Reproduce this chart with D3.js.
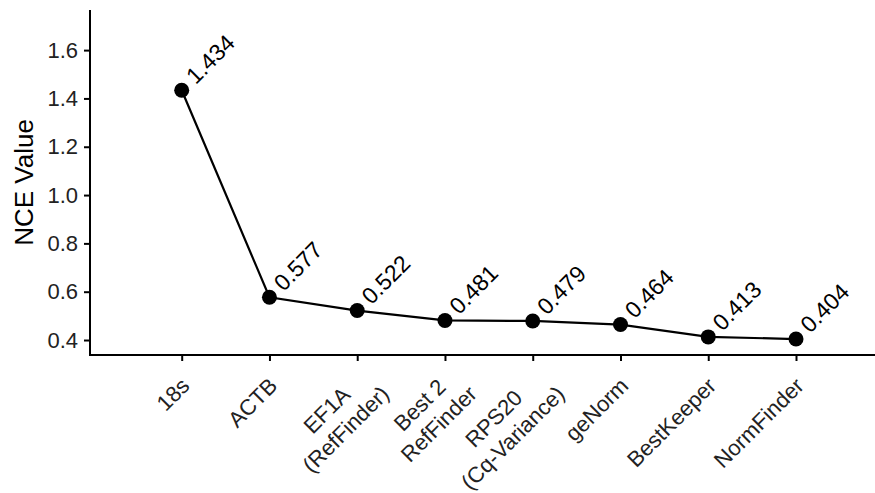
<!DOCTYPE html>
<html>
<head>
<meta charset="utf-8">
<script src="https://cdn.jsdelivr.net/npm/d3@7"></script>
<style>
	body { margin: 0; background: #fff; }
	svg { display: block; font-family: Arial, "Liberation Sans", Helvetica, sans-serif; }
</style>
</head>
<body>
<div id="chart"></div>
<script>
var methodLabels = [
	["18s"],
	["ACTB"],
	["EF1A", "(RefFinder)"],
	["Best 2", "RefFinder"],
	["RPS20", "(Cq-Variance)"],
	["geNorm"],
	["BestKeeper"],
	["NormFinder"]
];
var methodKeys = ["18s", "ACTB", "EF1A", "Best2", "RPS20", "geNorm", "BestKeeper", "NormFinder"];
var nceValues = [1.434, 0.577, 0.522, 0.481, 0.479, 0.464, 0.413, 0.404];
var yTicks = [0.4, 0.6, 0.8, 1.0, 1.2, 1.4, 1.6];

var width = 875, height = 493;
var axisX = 90, axisY = 355, axisTop = 10;

var svg = d3.select('#chart').append('svg')
	.attr('width', width)
	.attr('height', height);

var xscale = d3.scalePoint()
	.domain(methodKeys)
	.range([181.7, 796]);

var yscale = d3.scaleLinear()
	.domain([0.338, 1.766])
	.range([axisY, axisTop]);

// y axis
var yAxis = svg.append('g')
	.attr('transform', 'translate(' + axisX + ',0)')
	.call(d3.axisLeft(yscale)
		.tickValues(yTicks)
		.tickFormat(d3.format('.1f'))
		.tickSize(6)
		.tickPadding(6)
		.tickSizeOuter(0));
yAxis.select('.domain').remove();
yAxis.selectAll('line').attr('stroke', '#000').attr('stroke-width', 2);
yAxis.selectAll('text')
	.attr('font-size', '22px')
	.attr('fill', '#222');

// x axis
var xAxis = svg.append('g')
	.attr('transform', 'translate(0,' + axisY + ')')
	.call(d3.axisBottom(xscale).tickSize(6).tickSizeOuter(0).tickFormat(''));
xAxis.select('.domain').remove();
xAxis.selectAll('line').attr('stroke', '#000').attr('stroke-width', 2);

svg.append('line')
	.attr('x1', axisX).attr('x2', width + 5)
	.attr('y1', axisY).attr('y2', axisY)
	.attr('stroke', '#000').attr('stroke-width', 2);
svg.append('line')
	.attr('x1', axisX).attr('x2', axisX)
	.attr('y1', axisTop).attr('y2', axisY + 1)
	.attr('stroke', '#000').attr('stroke-width', 2);

// rotated category labels, lines centred on each other
var lineH = 27;
methodKeys.forEach(function (k, i) {
	var lines = methodLabels[i];
	var multi = lines.length > 1;
	var ax = xscale(k) + (multi ? 3 : -2);
	var ay = axisY + (multi ? 10 : 21);
	var g = svg.append('g')
		.attr('transform', 'translate(' + ax + ',' + ay + ') rotate(-45)');
	var texts = lines.map(function (s, j) {
		return g.append('text')
			.attr('font-size', '22px')
			.attr('fill', '#222')
			.attr('dy', '0.72em')
			.attr('y', j * lineH)
			.text(s);
	});
	var w = d3.max(texts, function (t) { return t.node().getComputedTextLength(); });
	texts.forEach(function (t) {
		t.attr('text-anchor', 'middle').attr('x', -w / 2);
	});
});

// y axis title
svg.append('text')
	.attr('transform', 'translate(33,' + ((axisTop + axisY) / 2) + ') rotate(-90)')
	.attr('text-anchor', 'middle')
	.attr('font-size', '26px')
	.attr('fill', '#000')
	.text('NCE Value');

// line + points
var line = d3.line()
	.x(function (d, i) { return xscale(methodKeys[i]); })
	.y(function (d) { return yscale(d); });

svg.append('path')
	.attr('d', line(nceValues))
	.attr('fill', 'none')
	.attr('stroke', '#000')
	.attr('stroke-width', 2.2);

svg.selectAll('circle.pt')
	.data(nceValues)
	.enter()
	.append('circle')
	.attr('class', 'pt')
	.attr('r', 7.5)
	.attr('cx', function (d, i) { return xscale(methodKeys[i]); })
	.attr('cy', function (d) { return yscale(d); })
	.attr('fill', '#000');

svg.selectAll('text.val')
	.data(nceValues)
	.enter()
	.append('text')
	.attr('class', 'val')
	.attr('font-size', '23px')
	.attr('fill', '#000')
	.attr('transform', function (d, i) {
		return 'translate(' + (xscale(methodKeys[i]) + 14) + ',' + (yscale(d) - 5) + ') rotate(-45)';
	})
	.text(function (d) { return d3.format('.3f')(d); });
</script>
</body>
</html>
